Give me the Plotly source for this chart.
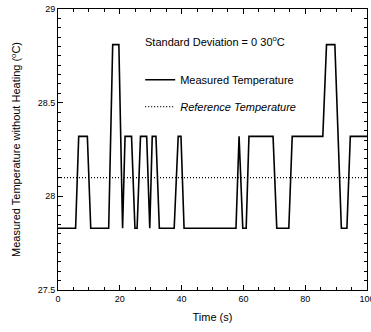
import plotly.graph_objects as go

# Data (vertices of the measured trace)
LOW, HIGH, PEAK = 27.83, 28.32, 28.81
time_s = [0, 5.7, 6.7, 9.5, 10.6, 16.4, 17.7, 19.7, 20.9, 21.7, 23.8, 24.9, 25.6,
          26.7, 28.7, 29.7, 30.5, 31.7, 32.8, 37.6, 38.9, 39.8, 40.8, 57.6, 58.6,
          59.8, 60.9, 61.8, 69.6, 70.8, 74.7, 75.8, 85.7, 86.9, 89.6, 91.7, 93.5,
          94.6, 100]
measured = [LOW, LOW, HIGH, HIGH, LOW, LOW, PEAK, PEAK, LOW, HIGH, HIGH, LOW, LOW,
            HIGH, HIGH, LOW, HIGH, HIGH, LOW, LOW, HIGH, HIGH, LOW, LOW, HIGH,
            LOW, LOW, HIGH, HIGH, LOW, LOW, HIGH, HIGH, PEAK, PEAK, LOW, LOW,
            HIGH, HIGH]
ref_time = [0, 100]
reference = [28.10, 28.10]

x_ticks = [0, 20, 40, 60, 80, 100]
y_ticks = [27.5, 28, 28.5, 29]
y_tick_text = ["27.5", "28", "28.5", "29"]

FONT = "Arial, Liberation Sans, sans-serif"

fig = go.Figure()
fig.add_trace(go.Scatter(x=time_s, y=measured, mode="lines",
                         line=dict(color="black", width=1.6),
                         name="Measured Temperature", legendgroup="a"))
fig.add_trace(go.Scatter(x=ref_time, y=reference, mode="lines",
                         line=dict(color="black", width=1.2, dash="1px,2px"),
                         name="<i>Reference Temperature</i>", legendgroup="b"))

axis_common = dict(showline=True, linecolor="black", linewidth=1, mirror="ticks",
                   ticks="inside", ticklen=5, tickcolor="black", showgrid=False,
                   zeroline=False, automargin=False, ticklabeloverflow="allow",
                   tickfont=dict(family=FONT, size=9, color="black"))

fig.update_xaxes(range=[0, 100], tickvals=x_ticks,
                 minor=dict(dtick=5, ticks="inside", ticklen=3, tickcolor="black"),
                 title=dict(text="Time (s)", font=dict(family=FONT, size=11, color="black"),
                            standoff=10),
                 **axis_common)
fig.update_yaxes(range=[27.5, 29], tickvals=y_ticks, ticktext=y_tick_text,
                 minor=dict(dtick=0.05, ticks="inside", ticklen=3, tickcolor="black"),
                 title=dict(text="Measured Temperature without Heating (<sup>o</sup>C)",
                            font=dict(family=FONT, size=11, color="black"), standoff=14),
                 **axis_common)

fig.add_annotation(text="Standard Deviation = 0 30<sup>o</sup>C", xref="paper", yref="paper",
                   x=0.275, y=0.886, xanchor="left", yanchor="middle", showarrow=False,
                   font=dict(family=FONT, size=11, color="black"))

fig.update_layout(
    width=371, height=332,
    margin=dict(l=58, r=4, t=9, b=42),
    paper_bgcolor="white", plot_bgcolor="white",
    showlegend=True,
    legend=dict(x=0.266, y=0.80, xanchor="left", yanchor="top",
                bgcolor="rgba(0,0,0,0)", traceorder="grouped", tracegroupgap=8,
                font=dict(family=FONT, size=11, color="black"), itemwidth=30),
)

fig.write_html("out.html", config={"displayModeBar": False},
               post_script="document.body.style.margin='0';document.body.style.overflow='hidden';")
